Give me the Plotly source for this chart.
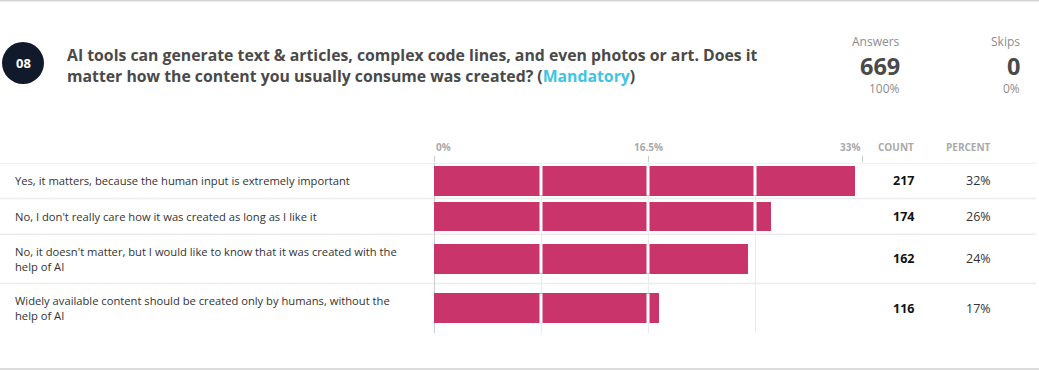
import plotly.graph_objects as go

# ---------------- data ----------------
question_no = "08"
question_line1 = "AI tools can generate text &amp; articles, complex code lines, and even photos or art. Does it"
question_line2 = "matter how the content you usually consume was created? ("
mandatory_text = "Mandatory"
categories = [
    "Yes, it matters, because the human input is extremely important",
    "No, I don't really care how it was created as long as I like it",
    "No, it doesn't matter, but I would like to know that it was created with the<br>help of AI",
    "Widely available content should be created only by humans, without the<br>help of AI",
]
counts = [217, 174, 162, 116]
answers_total = 669
skips_total = 0
axis_tick_values = [0, 16.5, 33]
axis_tick_labels = ["0%", "16.5%", "33%"]
grid_step = 8.25

# ---------------- layout helpers ----------------
W, H = 1039, 370
def px(x):
    return x / W
def py(y):
    return 1 - y / H

percents = [c / answers_total * 100 for c in counts]
row_h = [50 if "<br>" in c else 36 for c in categories]
centers = []
acc = 0
for h in row_h:
    centers.append(acc + h / 2)
    acc += h
table_h = acc
table_top = 163
table_bottom = table_top + table_h
bar_th = 30

BAR = "#c9346b"
GRID = "#ececec"
FONT = "Open Sans"

fig = go.Figure()
fig.add_trace(go.Bar(
    x=percents, y=centers, orientation="h", width=bar_th,
    marker=dict(color=BAR, line=dict(width=0)), hoverinfo="skip",
))

shapes = []
# white gaps where grid lines cross bars
for p, c in zip(percents, centers):
    g = grid_step
    while g < p:
        shapes.append(dict(type="line", xref="x", yref="y", x0=g, x1=g,
                           y0=c - bar_th / 2, y1=c + bar_th / 2,
                           line=dict(color="white", width=3), layer="above"))
        g += grid_step
# row separators
acc = 0
for h in row_h:
    shapes.append(dict(type="line", xref="paper", yref="y", x0=0, x1=px(1036),
                       y0=acc, y1=acc, line=dict(color=GRID, width=1.5), layer="below"))
    acc += h
# top / bottom borders
shapes.append(dict(type="line", xref="paper", yref="paper", x0=0, x1=1, y0=py(0.5), y1=py(0.5),
                   line=dict(color="#d4d4d4", width=2)))
shapes.append(dict(type="line", xref="paper", yref="paper", x0=0, x1=1, y0=py(369), y1=py(369),
                   line=dict(color="#dcdcdc", width=2)))
# question number circle
cx, cy, r = 23, 63, 21
shapes.append(dict(type="circle", xref="paper", yref="paper",
                   x0=px(cx - r), x1=px(cx + r), y0=py(cy + r), y1=py(cy - r),
                   fillcolor="#111a2b", line=dict(width=0)))

ann = []
def A(text, x, y, size, color, xanchor="left", bold=False, **kw):
    t = f"<b>{text}</b>" if bold else text
    ann.append(dict(text=t, x=px(x), y=py(y), xref="paper", yref="paper",
                    xanchor=xanchor, yanchor="middle", showarrow=False,
                    font=dict(family=FONT, size=size, color=color), **kw))

A(question_no, cx, cy, 13, "white", xanchor="center", bold=True)
A(question_line1, 65, 55, 15.8, "#4a4a4a", bold=True)
A(question_line2 + f"<span style='color:#3fc5e2'>{mandatory_text}</span>)", 65, 76, 15.8, "#4a4a4a", bold=True)

A("Answers", 902, 42, 12, "#8c8c8c", xanchor="right")
A(str(answers_total), 902, 66, 23.5, "#4a4a4a", xanchor="right", bold=True)
A("100%", 902, 88, 12, "#8c8c8c", xanchor="right")
A("Skips", 1022, 42, 12, "#8c8c8c", xanchor="right")
A(str(skips_total), 1022, 66, 23.5, "#4a4a4a", xanchor="right", bold=True)
A(f"{round(skips_total / answers_total * 100)}%", 1022, 88, 12, "#8c8c8c", xanchor="right")

# axis labels
anchors = ["left", "center", "right"]
for v, lab, an in zip(axis_tick_values, axis_tick_labels, anchors):
    ann.append(dict(text=f"<b>{lab}</b>", x=v, xref="x", y=py(147), yref="paper",
                    xanchor=an, yanchor="middle", showarrow=False,
                    font=dict(family=FONT, size=10, color="#aaaaaa")))
A("COUNT", 896, 147, 10, "#aaaaaa", xanchor="center", bold=True)
A("PERCENT", 968, 147, 10, "#aaaaaa", xanchor="center", bold=True)

for cat, cnt, pc, c in zip(categories, counts, percents, centers):
    lines = cat.split("<br>")
    n = len(lines)
    for k, ln in enumerate(lines):
        ann.append(dict(text=ln, x=px(13), xref="paper", y=c + (k - (n - 1) / 2) * 15.5, yref="y",
                        xanchor="left", yanchor="middle", align="left", showarrow=False,
                        font=dict(family=FONT, size=11.2, color="#333333")))
    ann.append(dict(text=f"<b>{cnt}</b>", x=px(903), xref="paper", y=c, yref="y",
                    xanchor="center", yanchor="middle", showarrow=False,
                    font=dict(family=FONT, size=12.5, color="#111111")))
    ann.append(dict(text=f"{round(pc)}%", x=px(978), xref="paper", y=c, yref="y",
                    xanchor="center", yanchor="middle", showarrow=False,
                    font=dict(family=FONT, size=12.5, color="#333333")))

fig.update_layout(
    width=W, height=H, margin=dict(l=0, r=0, t=0, b=0),
    paper_bgcolor="white", plot_bgcolor="white",
    showlegend=False, shapes=shapes, annotations=ann,
    xaxis=dict(domain=[px(434), px(862)], range=[0, 33], side="top",
               tickvals=axis_tick_values, showticklabels=False,
               ticks="outside", ticklen=6, tickcolor="#cccccc", tickwidth=1,
               showgrid=True, gridcolor=GRID, gridwidth=1,
               minor=dict(dtick=grid_step, tick0=0, showgrid=True, gridcolor=GRID, gridwidth=1, ticks=""),
               zeroline=True, zerolinecolor="#cccccc", zerolinewidth=1,
               showline=False, fixedrange=True),
    yaxis=dict(domain=[py(table_bottom - 2), py(table_top)], range=[table_h, 0],
               showticklabels=False, showgrid=False, zeroline=False, showline=False,
               fixedrange=True),
    bargap=0,
)

fig.write_html("out.html", config={"displayModeBar": False},
               post_script="document.body.style.margin='0';document.body.style.overflow='hidden';")
